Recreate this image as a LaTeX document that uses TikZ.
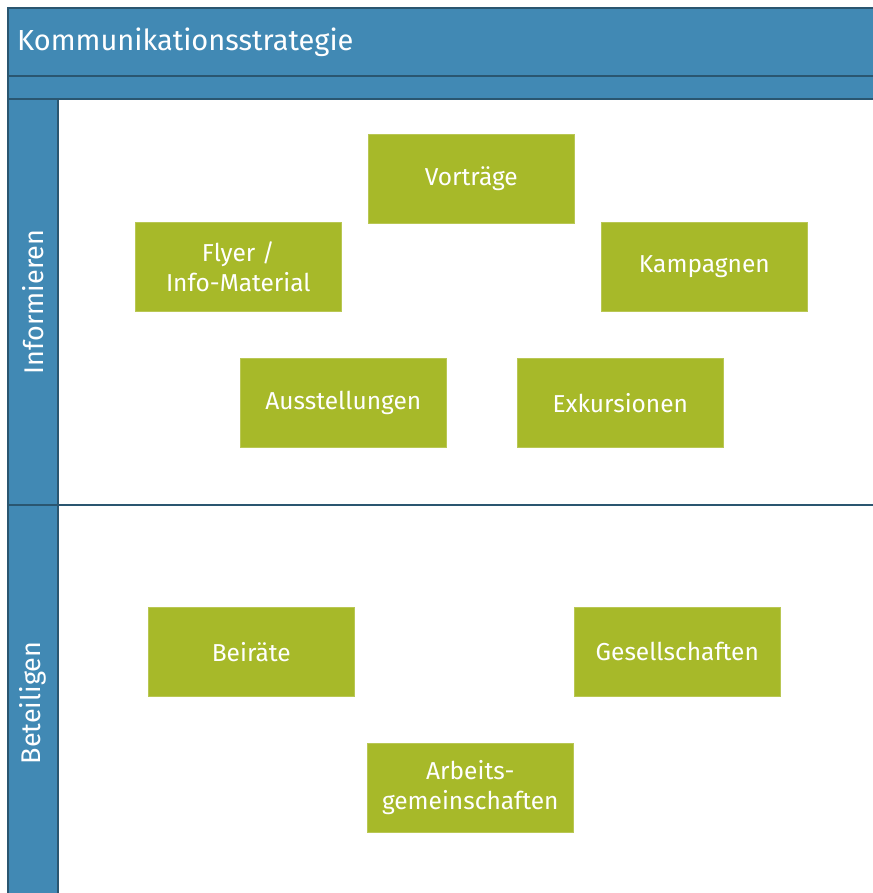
\documentclass[tikz,border=0pt]{standalone}
\usepackage{fontspec}
\setmainfont{Fira Sans}
\definecolor{laneblue}{HTML}{4189B4}
\definecolor{laneedge}{HTML}{2A5670}
\definecolor{boxgreen}{HTML}{A7B929}
\begin{document}
\begin{tikzpicture}[x=1pt,y=-1pt,
  lanefill/.style={fill=laneblue,draw=laneedge,line width=1.2pt},
  item/.style={fill=boxgreen,draw=boxgreen!80!white,line width=0.6pt,minimum width=206pt,minimum height=89pt,inner sep=0pt,text=white,font=\fontsize{24.5}{30}\selectfont,align=center,anchor=north west},
  lanelabel/.style={text=white,font=\fontsize{27}{30}\selectfont,rotate=90}]
\useasboundingbox (0,0) rectangle (872,893);
\fill[white] (0,0) rectangle (872,893);
% header
\draw[lanefill] (8,8) rectangle (880,76);
\node[anchor=west,text=white,font=\fontsize{29}{34}\selectfont,inner sep=0pt] (title) at (17,42) {Kommunikationsstrategie};
\draw[lanefill] (8,76) rectangle (880,99);
% lane columns
\draw[lanefill] (8,99) rectangle (58,505);
\draw[lanefill] (8,505) rectangle (58,900);
\draw[laneedge,line width=1.2pt] (58,505) -- (880,505);
\node[lanelabel] (lane1) at (33,302) {Informieren};
\node[lanelabel] (lane2) at (33,703) {Beteiligen};
% boxes
\node[item] (vortraege) at (368,134) {Vorträge};
\node[item] (flyer) at (135,222) {Flyer /\\Info-Material};
\node[item] (kampagnen) at (601,222) {Kampagnen};
\node[item] (ausstellungen) at (240,358) {Ausstellungen};
\node[item] (exkursionen) at (517,358) {Exkursionen};
\node[item] (beiraete) at (148,607) {Beiräte};
\node[item] (gesellschaften) at (574,607) {Gesellschaften};
\node[item] (arbeit) at (367,743) {Arbeits-\\gemeinschaften};
\end{tikzpicture}
\end{document}
